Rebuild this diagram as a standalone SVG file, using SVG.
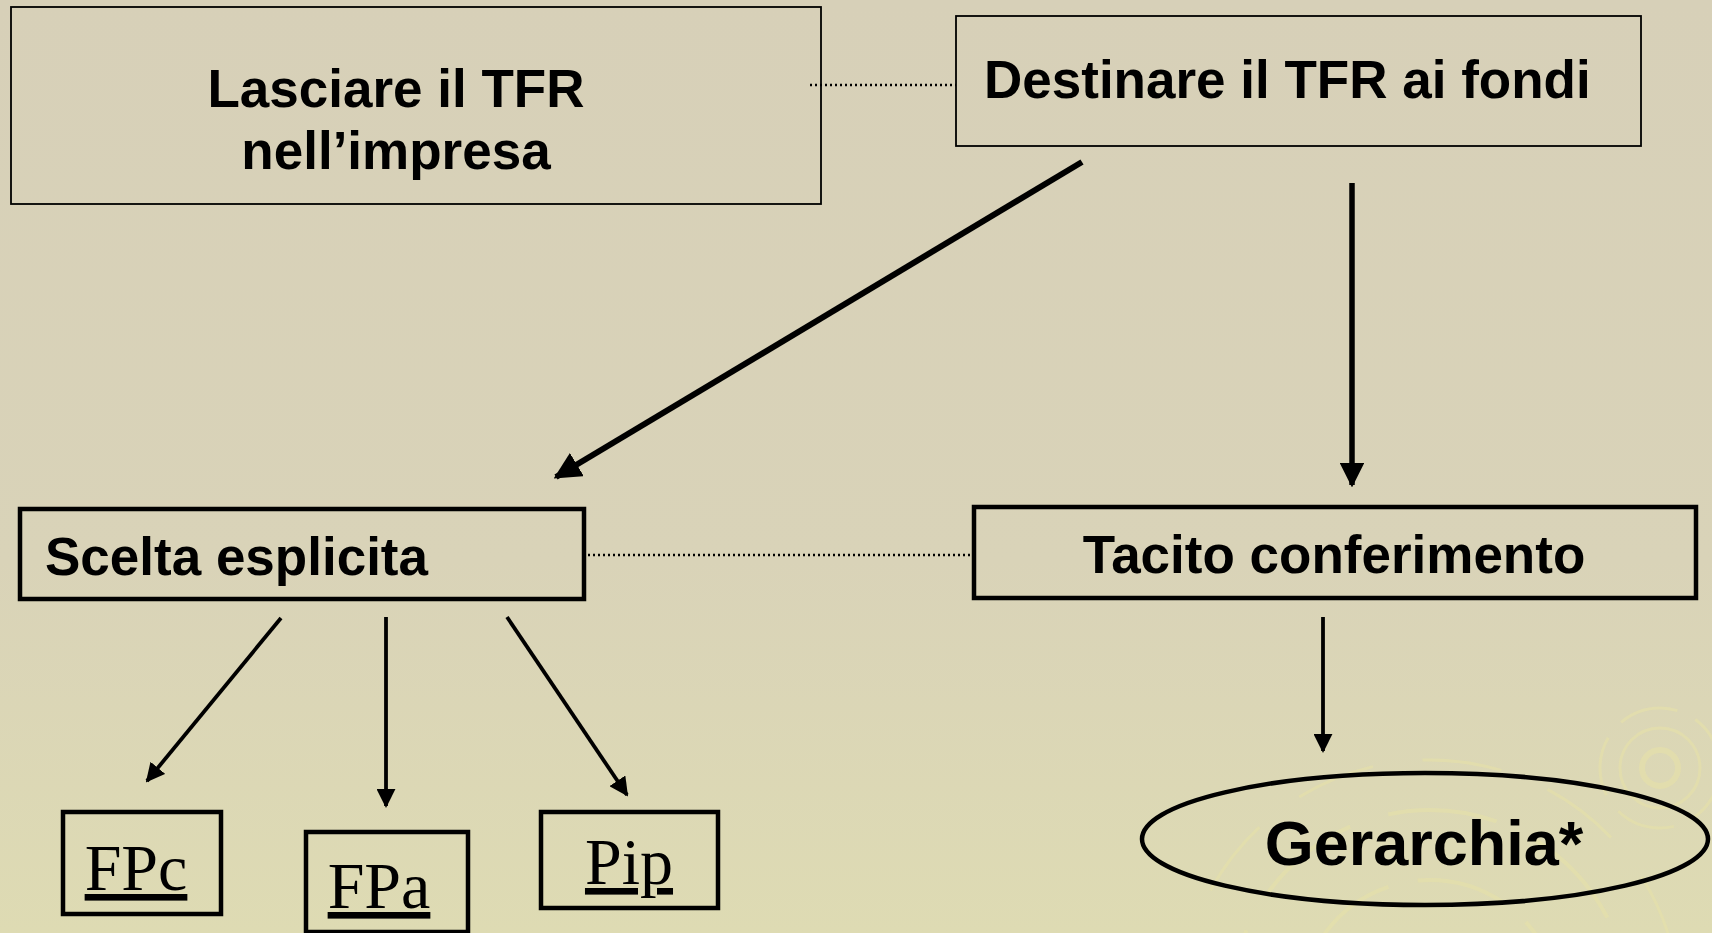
<svg xmlns="http://www.w3.org/2000/svg" width="1712" height="933" viewBox="0 0 1712 933">
  <defs>
    <linearGradient id="bg" x1="0" y1="0" x2="0" y2="1">
      <stop offset="0" stop-color="#D7D0B8"/>
      <stop offset="0.6" stop-color="#D9D3B8"/>
      <stop offset="1" stop-color="#DEDBB3"/>
    </linearGradient>
    <marker id="ahBig" viewBox="0 0 10 10" refX="9" refY="5" markerWidth="4.5" markerHeight="4.5" orient="auto" markerUnits="strokeWidth">
      <path d="M0,0 L10,5 L0,10 z" fill="#000"/>
    </marker>
    <marker id="ahSmall" viewBox="0 0 10 10" refX="9" refY="5" markerWidth="5" markerHeight="5" orient="auto" markerUnits="strokeWidth">
      <path d="M0,0 L10,5 L0,10 z" fill="#000"/>
    </marker>
  </defs>
  <style>
    .thin { fill: none; stroke: #000; stroke-width: 1.8; }
    .thick { fill: none; stroke: #000; stroke-width: 4.5; }
    .sans { font-family: "Liberation Sans", Arial, sans-serif; font-weight: bold; fill: #000; }
    .serif { font-family: "Liberation Serif", "Times New Roman", serif; fill: #000; text-decoration: underline; }
    .dot { fill: none; stroke: #000; stroke-width: 2.4; stroke-dasharray: 2 3; }
    .conn { fill: none; stroke: #000; }
    .deco { fill: none; stroke: #E6E1A8; opacity: 0.6; }
  </style>
  <rect x="0" y="0" width="1712" height="933" fill="url(#bg)"/>
  <g id="decoration">
    <circle class="deco" cx="1660" cy="768" r="18" stroke-width="6"/>
    <circle class="deco" cx="1660" cy="768" r="40" stroke-width="3"/>
    <circle class="deco" cx="1660" cy="768" r="60" stroke-width="3" stroke-dasharray="60 20"/>
    <circle class="deco" cx="1430" cy="1010" r="130" stroke-width="4" stroke-dasharray="90 30"/>
    <circle class="deco" cx="1430" cy="1010" r="200" stroke-width="4" stroke-dasharray="110 40"/>
    <circle class="deco" cx="1430" cy="1010" r="250" stroke-width="3" stroke-dasharray="80 50"/>
  </g>

  <g id="connectors">
    <line class="dot" x1="810" y1="85" x2="956" y2="85"/>
    <line class="dot" x1="588" y1="555" x2="972" y2="555"/>
    <line class="conn" stroke-width="6" x1="1082" y1="162" x2="556" y2="477" marker-end="url(#ahBig)"/>
    <line class="conn" stroke-width="5.5" x1="1352" y1="183" x2="1352" y2="485" marker-end="url(#ahBig)"/>
    <line class="conn" stroke-width="3.8" x1="281" y1="618" x2="147" y2="781" marker-end="url(#ahSmall)"/>
    <line class="conn" stroke-width="3.8" x1="386" y1="617" x2="386" y2="806" marker-end="url(#ahSmall)"/>
    <line class="conn" stroke-width="3.8" x1="507" y1="617" x2="627" y2="795" marker-end="url(#ahSmall)"/>
    <line class="conn" stroke-width="3.8" x1="1323" y1="617" x2="1323" y2="751" marker-end="url(#ahSmall)"/>
  </g>

  <g id="node-lasciare">
    <rect class="thin" x="11" y="7" width="810" height="197"/>
    <text class="sans" font-size="53" x="396" y="107" text-anchor="middle">Lasciare il TFR</text>
    <text class="sans" font-size="53" x="396" y="169" text-anchor="middle">nell’impresa</text>
  </g>
  <g id="node-destinare">
    <rect class="thin" x="956" y="16" width="685" height="130"/>
    <text class="sans" font-size="53" x="984" y="98">Destinare il TFR ai fondi</text>
  </g>
  <g id="node-scelta">
    <rect class="thick" x="20" y="509" width="564" height="90"/>
    <text class="sans" font-size="53" x="45" y="575">Scelta esplicita</text>
  </g>
  <g id="node-tacito">
    <rect class="thick" x="974" y="507" width="722" height="91"/>
    <text class="sans" font-size="53" x="1334" y="573" text-anchor="middle">Tacito conferimento</text>
  </g>
  <g id="node-fpc">
    <rect class="thick" x="63" y="812" width="158" height="102"/>
    <text class="serif" font-size="66" x="136" y="890" text-anchor="middle">FPc</text>
  </g>
  <g id="node-fpa">
    <rect class="thick" x="306" y="832" width="162" height="100"/>
    <text class="serif" font-size="66" x="379" y="908" text-anchor="middle">FPa</text>
  </g>
  <g id="node-pip">
    <rect class="thick" x="541" y="812" width="177" height="96"/>
    <text class="serif" font-size="66" x="629" y="884" text-anchor="middle">Pip</text>
  </g>
  <g id="node-gerarchia">
    <ellipse class="thick" cx="1425" cy="839" rx="283" ry="66"/>
    <text class="sans" font-size="63" x="1424" y="865" text-anchor="middle">Gerarchia*</text>
  </g>
</svg>
